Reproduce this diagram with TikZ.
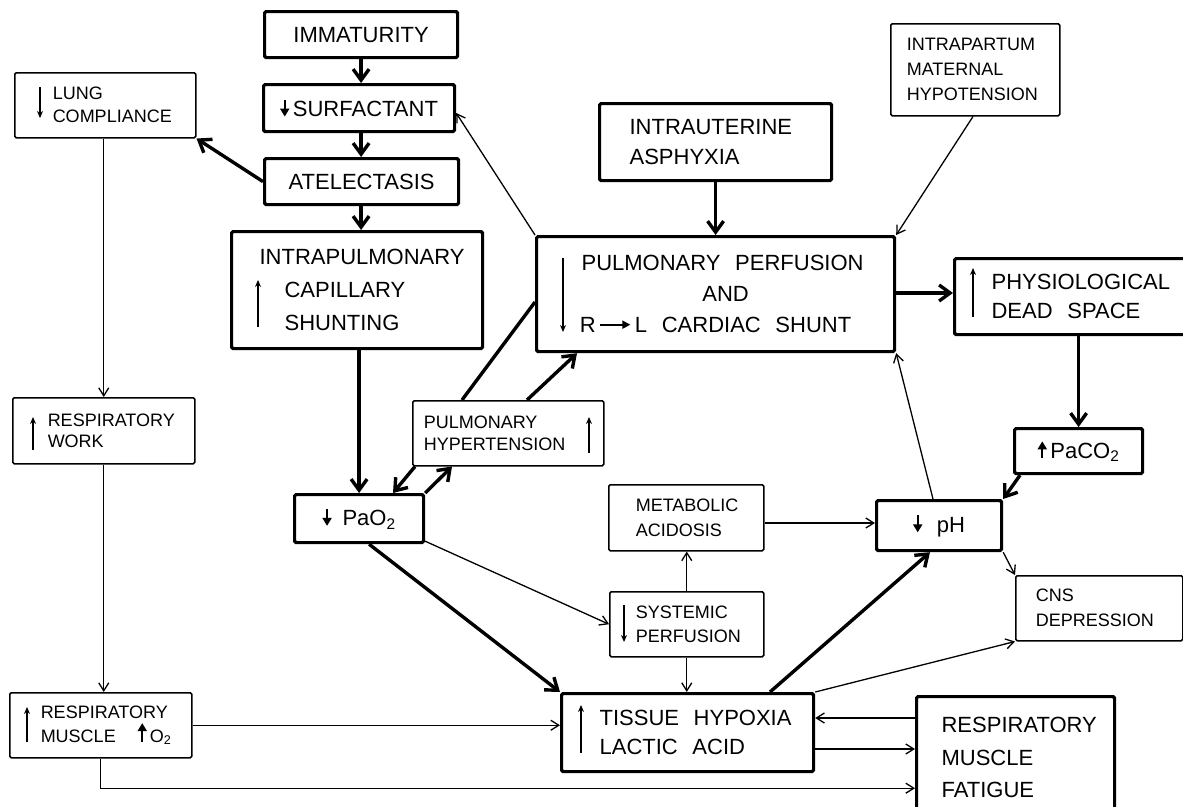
\documentclass[tikz,border=0pt]{standalone}
\usepackage{fontspec}
\setmainfont{Liberation Sans}
\usetikzlibrary{arrows.meta,calc}
\newcommand{\dnarr}[1][17]{\tikz[x=1pt,y=1pt,baseline=0pt]\draw[line width=2.2pt,-{Triangle[length=8pt,width=9pt]}] (0,#1)--(0,0);}
\newcommand{\uparr}[1][17]{\tikz[x=1pt,y=1pt,baseline=0pt]\draw[line width=2.2pt,-{Triangle[length=8pt,width=9pt]}] (0,0)--(0,#1);}
\newcommand{\rlarr}{\tikz[x=1pt,y=1pt,baseline=0pt]\draw[line width=1.8pt,-{Triangle[length=8pt,width=8pt]}] (0,8)--(30,8);}
\tikzset{
  box/.style={draw, rounded corners=1.5pt, inner sep=0pt, anchor=north west},
  thickbox/.style={box, line width=3.2pt},
  thinbox/.style={box, line width=1.5pt},
  big/.style={font=\fontsize{22}{#1}\selectfont},
  big/.default=30,
  small/.style={font=\fontsize{18}{#1}\selectfont},
  small/.default=24,
  thk/.style={line width=3.4pt, -{Straight Barb[length=11pt,width=16pt]}},
  thkline/.style={line width=3.4pt},
  thn/.style={line width=1.3pt, -{Straight Barb[length=8pt,width=10pt]}},
  txtarr/.style={line width=1.7pt, -{Stealth[length=7pt,width=6pt]}},
}
\begin{document}
\begin{tikzpicture}[x=1pt,y=-1pt]
\useasboundingbox (0,0) rectangle (1183,806);

% ---------- boxes ----------
\node[thickbox, big, minimum width=193, minimum height=46, text width=193, align=center] (imm) at (263,10) {IMMATURITY};
\node[thickbox, big, minimum width=191, minimum height=47, text width=191, align=center] (surf) at (262,83) {\dnarr\,SURFACTANT};
\node[thickbox, big, minimum width=194, minimum height=46, text width=194, align=center] (atel) at (263,157) {ATELECTASIS};
\node[thickbox, big=33, minimum width=251, minimum height=117, text width=251, align=left] (intra) at (230,230)
  {\hspace*{28pt}INTRAPULMONARY\\\hspace*{53pt}CAPILLARY\\\hspace*{53pt}SHUNTING};
\node[thinbox, small=23, minimum width=181, minimum height=65, text width=181, align=left] (lung) at (14,72)
  {\hspace*{38pt}LUNG\\\hspace*{38pt}COMPLIANCE};
\node[thinbox, small=21, minimum width=182, minimum height=66, text width=182, align=left] (rw) at (12,397)
  {\hspace*{35pt}RESPIRATORY\\\hspace*{35pt}WORK};
\node[thinbox, small=24, minimum width=182, minimum height=65, text width=182, align=left] (rm) at (9,692)
  {\hspace*{31pt}RESPIRATORY\\\hspace*{31pt}MUSCLE\hspace*{22pt}\uparr[19]\,O\textsubscript{2}};
\node[thickbox, big=30, minimum width=232, minimum height=77, text width=232, align=left] (intraut) at (598,102)
  {\hspace*{30pt}INTRAUTERINE\\\hspace*{30pt}ASPHYXIA};
\node[thinbox, small=25, minimum width=169, minimum height=92, text width=169, align=left] (intrapartum) at (890,23)
  {\hspace*{16pt}INTRAPARTUM\\\hspace*{16pt}MATERNAL\\\hspace*{16pt}HYPOTENSION};
\node[thickbox, big=31, minimum width=358, minimum height=115, text width=358, align=center] (perf) at (535,235)
  {\hspace*{14pt}PULMONARY\ \ PERFUSION\\\hspace*{20pt}AND\\R\,\rlarr\,L\ \ CARDIAC\ \ SHUNT};
\node[thinbox, small=22, minimum width=191, minimum height=65, text width=191, align=left] (hyper) at (412,400)
  {\hspace*{11pt}PULMONARY\\\hspace*{11pt}HYPERTENSION};
\node[thickbox, big, minimum width=129, minimum height=48, text width=129, align=center] (pao2) at (293,493)
  {\dnarr\ \,PaO\textsubscript{2}};
\node[thickbox, big=29, minimum width=240, minimum height=76, text width=240, align=left] (phys) at (953,257)
  {\hspace*{37pt}PHYSIOLOGICAL\\\hspace*{37pt}DEAD\ \ SPACE};
\node[thickbox, big, minimum width=128, minimum height=45, text width=128, align=center] (paco2) at (1013,427)
  {\uparr\,PaCO\textsubscript{2}};
\node[thickbox, big, minimum width=125, minimum height=50, text width=125, align=center] (ph) at (875,499)
  {\dnarr\ \ pH};
\node[thinbox, small=25, minimum width=155, minimum height=66, text width=155, align=left] (met) at (608,484)
  {\hspace*{27pt}METABOLIC\\\hspace*{27pt}ACIDOSIS};
\node[thinbox, small=24, minimum width=154, minimum height=65, text width=154, align=left] (sys) at (609,591)
  {\hspace*{26pt}SYSTEMIC\\\hspace*{26pt}PERFUSION};
\node[thickbox, big=29, minimum width=252, minimum height=78, text width=252, align=left] (tissue) at (560,692)
  {\hspace*{38pt}TISSUE\ \ HYPOXIA\\\hspace*{38pt}LACTIC\ \ ACID};
\node[thinbox, small=25, minimum width=167, minimum height=65, text width=167, align=left] (cns) at (1015,575)
  {\hspace*{20pt}CNS\\\hspace*{20pt}DEPRESSION};
\node[thickbox, big=32.5, minimum width=198, minimum height=122, text width=198, align=left] (fatigue) at (915,695)
  {\hspace*{25pt}RESPIRATORY\\\hspace*{25pt}MUSCLE\\\hspace*{25pt}FATIGUE};

% ---------- arrows inside the boxes ----------
\draw[txtarr] ($(intra.north west)+(28,97)$) -- ($(intra.north west)+(28,50)$);
\draw[txtarr] ($(lung.north west)+(26,15)$) -- ($(lung.north west)+(26,46)$);
\draw[txtarr] ($(rw.north west)+(21,53)$) -- ($(rw.north west)+(21,20)$);
\draw[txtarr] ($(rm.north west)+(18,50)$) -- ($(rm.north west)+(18,15)$);
\draw[txtarr] ($(perf.north west)+(28,23)$) -- ($(perf.north west)+(28,97)$);
\draw[txtarr] ($(hyper.north west)+(177,53)$) -- ($(hyper.north west)+(177,17)$);
\draw[txtarr] ($(phys.north west)+(20,60)$) -- ($(phys.north west)+(20,11)$);
\draw[txtarr] ($(sys.north west)+(15,14)$) -- ($(sys.north west)+(15,51)$);
\draw[txtarr] ($(tissue.north west)+(21,61)$) -- ($(tissue.north west)+(21,13)$);

% ---------- helper coordinates ----------
\coordinate (fa) at ($(fatigue.north west)+(0,23)$);
\coordinate (fb) at ($(fatigue.north west)+(0,54)$);
\coordinate (pp) at ($(perf.north east)+(0,58)$);
\coordinate (mm) at ($(met.north east)+(0,39)$);

% ---------- connectors ----------
\draw[thk] (imm.south) -- (imm.south |- surf.north);
\draw[thk] (imm.south |- surf.south) -- (imm.south |- atel.north);
\draw[thk] (imm.south |- atel.south) -- (imm.south |- intra.north);
\draw[thk] (atel.west) -- (lung.south east);
\draw[thk] (intra.south -| pao2.north) -- (pao2.north);
\draw[thn] (lung.south -| rw.north) -- (rw.north);
\draw[thn] (rw.south) -- (rw.south |- rm.north);
\draw[thn] (rm.east) -- (rm.east -| tissue.west);
\draw[thn] (rm.south) |- ($(fatigue.south west)+(0,-32)$);
\draw[thn] (fa) -- (fa -| tissue.east);
\draw[thn] (fb -| tissue.east) -- (fb);
\draw[thk] ($(pao2.south)+(10,0)$) -- (tissue.north west);
\draw[thn] ($(pao2.south east)+(0,-3)$) -- (sys.west);
\draw[thk] ($(hyper.south west)+(3,0)$) -- ($(pao2.north west)+(100,0)$);
\draw[thk] (pao2.north east) -- ($(hyper.south west)+(40,0)$);
\draw[thkline] ($(hyper.north west)+(50,0)$) -- ($(perf.north west)+(0,67)$);
\draw[thk] ($(hyper.north west)+(115,0)$) -- ($(perf.south west)+(42,0)$);
\draw[thn] (perf.north west) -- ($(surf.north east)+(0,30)$);
\draw[thk] (intraut.south) -- (intraut.south |- perf.north);
\draw[thn] ($(intrapartum.south west)+(83,0)$) -- (perf.north east);
\draw[thk] (pp) -- (pp -| phys.west);
\draw[thk] (paco2.north |- phys.south) -- (paco2.north);
\draw[thk] ($(paco2.south west)+(7,0)$) -- (ph.north east);
\draw[thn] ($(ph.north west)+(58,0)$) -- (perf.south east);
\draw[thn] (mm) -- (mm -| ph.west);
\draw[thn] (sys.north) -- (sys.north |- met.south);
\draw[thn] (sys.south) -- (sys.south |- tissue.north);
\draw[thk] ($(tissue.north west)+(210,0)$) -- ($(ph.south west)+(55,0)$);
\draw[thn] (tissue.north east) -- (cns.south west);
\draw[thn] (ph.south east) -- (cns.north west);
\end{tikzpicture}
\end{document}
